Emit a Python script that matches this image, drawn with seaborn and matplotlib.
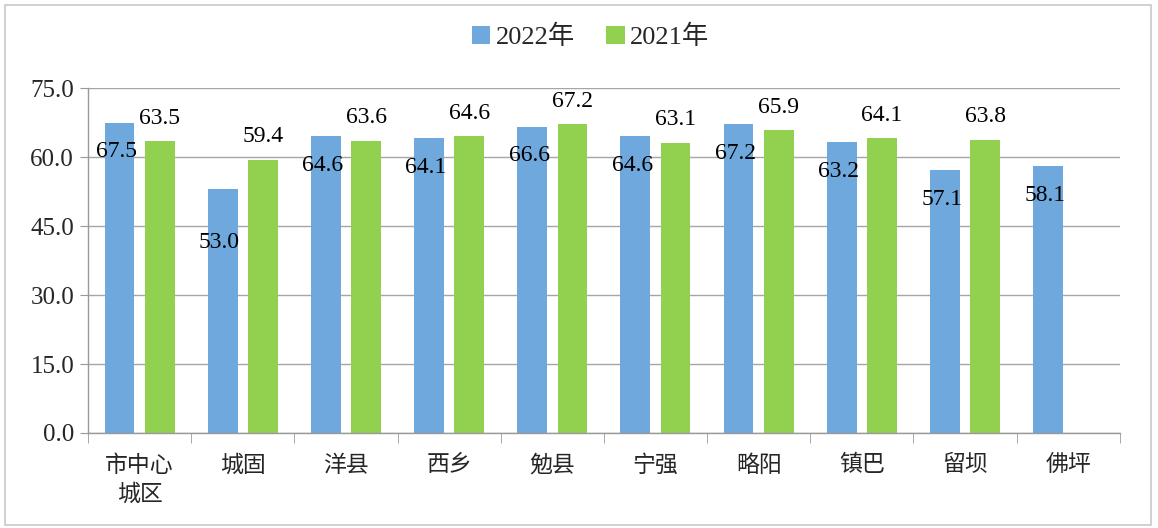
import seaborn as sns
import matplotlib.pyplot as plt
import pandas as pd
import numpy as np
from matplotlib.patches import Rectangle

regions = ['市中心\n城区', '城固', '洋县', '西乡', '勉县', '宁强', '略阳', '镇巴', '留坝', '佛坪']
v2022 = [67.5, 53.0, 64.6, 64.1, 66.6, 64.6, 67.2, 63.2, 57.1, 58.1]
v2021 = [63.5, 59.4, 63.6, 64.6, 67.2, 63.1, 65.9, 64.1, 63.8, np.nan]
years = ['2022年', '2021年']
colors = ['#6fa8dc', '#92d050']

df = pd.DataFrame({
    'region': regions * 2,
    'year': [years[0]] * len(regions) + [years[1]] * len(regions),
    'value': v2022 + v2021,
})

sns.set_style('white')
plt.rcParams['font.family'] = ['Liberation Serif', 'Noto Sans CJK SC']

fig, ax = plt.subplots(figsize=(11.58, 5.28), dpi=100)
fig.subplots_adjust(left=0.076, right=0.967, top=0.833, bottom=0.18)

sns.barplot(data=df, x='region', y='value', hue='year', palette=colors,
            width=0.78, gap=0.26, errorbar=None, ax=ax, saturation=1, linewidth=0)

# data labels: 2022 inside near top, 2021 above bar
for i, cont in enumerate(ax.containers):
    for bar in cont:
        h = bar.get_height()
        if np.isnan(h):
            continue
        xc = bar.get_x() + bar.get_width() / 2
        if i == 0:
            off = -38 if h < 55 else -21
            xc -= 0.03
        else:
            off = 16.5
        ax.annotate(f'{h:.1f}', (xc, h), xytext=(0, off), textcoords='offset points',
                    ha='center', va='center', fontsize=17, color='black')

ax.set_ylim(0, 75)
ax.set_yticks(np.arange(0, 76, 15))
ax.set_yticklabels([f'{t:.1f}' for t in np.arange(0, 76, 15)], fontsize=18)
ax.set_xlim(-0.5, len(regions) - 0.5)
ax.set_xticks(range(len(regions)))
ax.set_xticklabels(regions, fontsize=16.5, linespacing=1.45)
ax.set_xticks(np.arange(-0.5, len(regions), 1), minor=True)
ax.tick_params(axis='x', which='major', length=0, pad=16)
ax.tick_params(axis='x', which='minor', length=7, color='#999999', direction='out', bottom=True)
ax.tick_params(axis='y', length=6, color='#999999', direction='out', left=True, pad=4)
ax.set_xlabel('')
ax.set_ylabel('')
ax.yaxis.grid(True, color='#a6a6a6', linewidth=1)
ax.set_axisbelow(True)
for s in ['top', 'right']:
    ax.spines[s].set_visible(False)
for s in ['left', 'bottom']:
    ax.spines[s].set_color('#999999')
    ax.spines[s].set_linewidth(1)

handles, labels = ax.get_legend_handles_labels()
ax.get_legend().remove()
fig.legend(handles, labels, loc='center', bbox_to_anchor=(0.51, 0.93), ncol=2, frameon=False,
           fontsize=19, handlelength=0.7, handleheight=0.7, handletextpad=0.2, columnspacing=1.2)

fig.patches.append(Rectangle((0.004, 0.006), 0.99, 0.985, transform=fig.transFigure,
                             fill=False, edgecolor='#c8c8c8', linewidth=1.2))

fig.savefig('out.png', dpi=100)
